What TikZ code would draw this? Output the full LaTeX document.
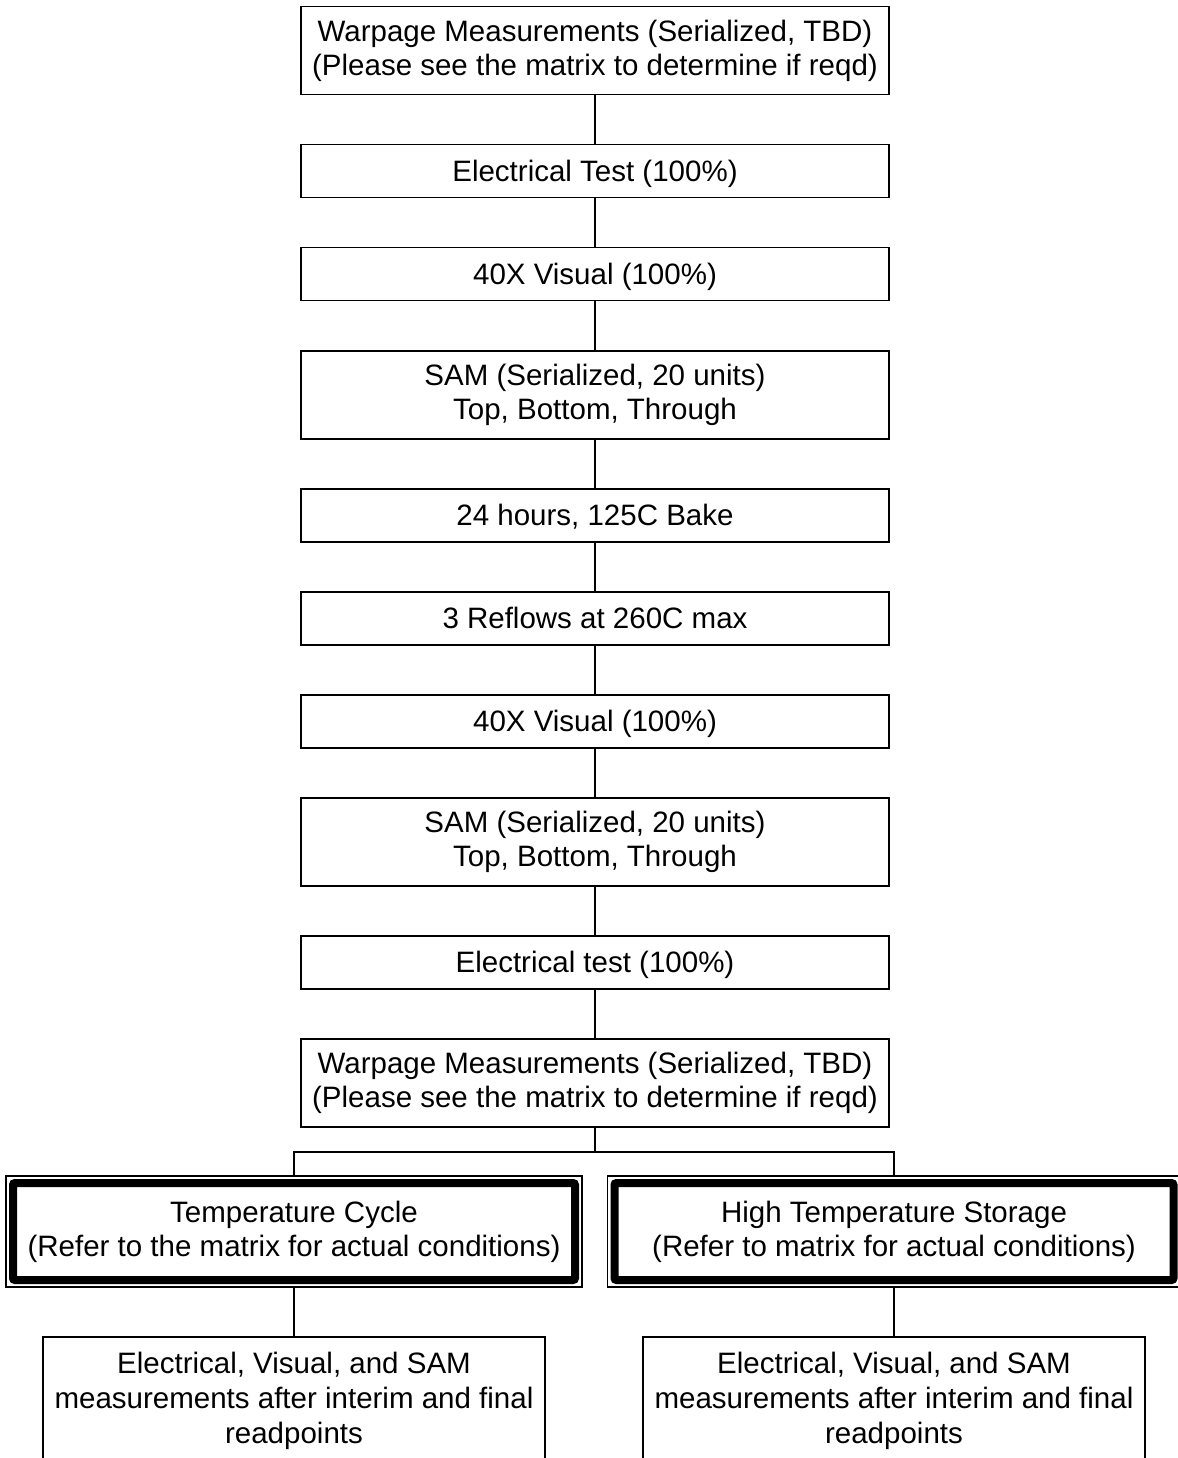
\documentclass[tikz,border=0pt]{standalone}
\usepackage{fontspec}
\setmainfont{Liberation Sans}
\begin{document}
\begin{tikzpicture}[x=0.5pt,y=-0.5pt,
  font=\fontsize{14.75pt}{17pt}\selectfont,
  box/.style={draw, line width=0.7pt, minimum width=294pt, inner sep=0pt, outer sep=0pt, align=center, text=black},
  one/.style={box, minimum height=26.5pt, text height=1.24em, text depth=0.2em},
  two/.style={box, minimum height=44pt},
  thinframe/.style={draw, line width=0.7pt, inner sep=0pt, outer sep=0pt, minimum height=55.5pt},
  thickframe/.style={draw, line width=4pt, inner sep=0pt, outer sep=0pt, minimum height=48.5pt, align=center, rounded corners=1pt},
  result/.style={draw, line width=0.7pt, minimum width=251pt, inner xsep=0pt, inner ysep=7.5pt, outer sep=0pt, anchor=north, align=center, font=\fontsize{14.75pt}{17.5pt}\selectfont},
  link/.style={line width=0.7pt}]
\clip (0,0) rectangle (1178,1458);
\useasboundingbox (0,0) rectangle (1178,1458);

\node[two] (b1) at (595,50.5) {Warpage Measurements (Serialized, TBD)\\(Please see the matrix to determine if reqd)};
\node[one] (b2) at (595,171) {Electrical Test (100\%)};
\node[one] (b3) at (595,274) {40X Visual (100\%)};
\node[two] (b4) at (595,395) {SAM (Serialized, 20 units)\\Top, Bottom, Through};
\node[one] (b5) at (595,515.5) {24 hours, 125C Bake};
\node[one] (b6) at (595,618.5) {3 Reflows at 260C max};
\node[one] (b7) at (595,721.5) {40X Visual (100\%)};
\node[two] (b8) at (595,842) {SAM (Serialized, 20 units)\\Top, Bottom, Through};
\node[one] (b9) at (595,962.5) {Electrical test (100\%)};
\node[two] (b10) at (595,1083) {Warpage Measurements (Serialized, TBD)\\(Please see the matrix to determine if reqd)};

\node[thinframe, minimum width=288pt] (tco) at (294,1231.5) {};
\node[thickframe, minimum width=281pt] (tc) at (294,1231.5) {Temperature Cycle\\(Refer to the matrix for actual conditions)};
\node[thinframe, minimum width=286.5pt] (hso) at (894,1231.5) {};
\node[thickframe, minimum width=279.5pt] (hs) at (894,1231.5) {High Temperature Storage\\(Refer to matrix for actual conditions)};

\node[result] (el) at (294,1337) {Electrical, Visual, and SAM\\measurements after interim and final\\readpoints\\[20pt]\mbox{}};
\node[result] (er) at (894,1337) {Electrical, Visual, and SAM\\measurements after interim and final\\readpoints\\[20pt]\mbox{}};

\draw[link] (b1) -- (b2);
\draw[link] (b2) -- (b3);
\draw[link] (b3) -- (b4);
\draw[link] (b4) -- (b5);
\draw[link] (b5) -- (b6);
\draw[link] (b6) -- (b7);
\draw[link] (b7) -- (b8);
\draw[link] (b8) -- (b9);
\draw[link] (b9) -- (b10);
\coordinate (split) at (595,1152);
\draw[link] (b10.south) -- (split);
\draw[link] (tco.north) |- (split) -| (hso.north);
\draw[link] (tco.south) -- (tco.south |- el.north);
\draw[link] (hso.south) -- (hso.south |- er.north);
\end{tikzpicture}
\end{document}
